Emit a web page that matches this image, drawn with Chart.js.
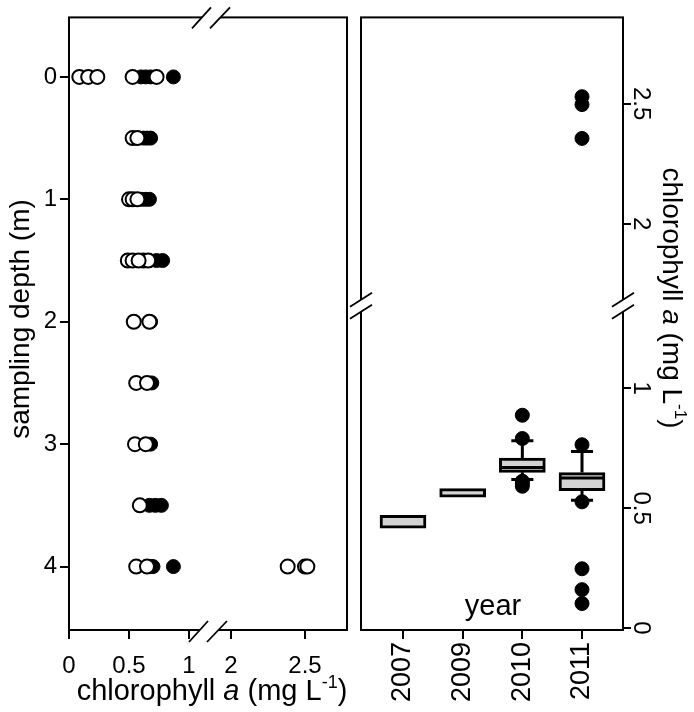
<!DOCTYPE html>
<html><head><meta charset="utf-8">
<script src="https://cdn.jsdelivr.net/npm/chart.js@4.4.0/dist/chart.umd.min.js"></script>
<style>
html,body{margin:0;padding:0;background:#fff;}
#wrap{position:relative;width:694px;height:712px;overflow:hidden;background:#fff;}
canvas{position:absolute;top:0;left:0;}
</style></head><body>
<div id="wrap"><canvas id="cL" width="694" height="712"></canvas><canvas id="cR" width="694" height="712"></canvas></div>
<script>
// ---------- data ----------
const depths = [0, 0.5, 1, 1.5, 2, 2.5, 3, 3.5, 4];
const openValues = [
  [0.086, 0.16, 0.236, 0.53, 0.73],
  [0.53, 0.57],
  [0.50, 0.53, 0.57],
  [0.49, 0.53, 0.62, 0.66, 0.58],
  [0.54, 0.67],
  [0.56, 0.65],
  [0.55, 0.64],
  [0.59],
  [0.56, 0.65, 2.383, 2.50, 2.516]
];
const filledValues = [
  [0.60, 0.64, 0.68, 0.87],
  [0.62, 0.65, 0.68],
  [0.61, 0.64, 0.67],
  [0.67, 0.73, 0.78],
  [0.68],
  [0.69],
  [0.68],
  [0.67, 0.72, 0.77],
  [0.68, 0.70, 0.87]
];
const depthTicks = [0, 1, 2, 3, 4];
const chlTicks = [0, 0.5, 1, 2, 2.5];
const chlTickLabels = ['0', '0.5', '1', '2', '2.5'];

const years = ['2007', '2009', '2010', '2011'];
const boxQ1 = [0.416, 0.545, 0.649, 0.573];
const boxMedian = [null, null, 0.669, 0.625];
const boxQ3 = [0.470, 0.581, 0.708, 0.648];
const whiskerLow = [null, null, 0.619, 0.533];
const whiskerHigh = [null, null, 0.781, 0.736];
const outliers = [
  [],
  [],
  [0.887, 0.790, 0.612, 0.603, 0.591],
  [2.529, 2.496, 2.355, 0.764, 0.526, 0.247, 0.160, 0.102]
];
const rightTicks = [0, 0.5, 1, 2, 2.5];
const rightTickLabels = ['0', '0.5', '1', '2', '2.5'];

// ---------- broken-axis transforms ----------
const tX = v => v <= 1 ? v : 1.35 + (v - 2) * 1.2333;   // left panel x
const tY = v => v <= 1 ? v : 1.686 + (v - 2);           // right panel y

const FONT = "'Liberation Sans', Arial, Helvetica, sans-serif";

function richText(ctx, parts, x, y, angle, size) {
  ctx.save();
  ctx.translate(x, y);
  ctx.rotate(angle);
  ctx.fillStyle = '#000';
  ctx.textBaseline = 'alphabetic';
  ctx.textAlign = 'left';
  const fnt = p => (p.italic ? 'italic ' : '') + (p.sup ? Math.round(size * 0.62) : size) + 'px ' + FONT;
  let total = 0;
  const w = parts.map(p => { ctx.font = fnt(p); const m = ctx.measureText(p.t).width; total += m; return m; });
  let cx = -total / 2;
  parts.forEach((p, i) => {
    ctx.font = fnt(p);
    ctx.fillText(p.t, cx, p.sup ? size * 0.35 - size * 0.42 : size * 0.35);
    cx += w[i];
  });
  ctx.restore();
}
const chlTitle = [{t: 'chlorophyll '}, {t: 'a', italic: true}, {t: ' (mg L'}, {t: '-1', sup: true}, {t: ')'}];

function slashPair(ctx, pts) {
  ctx.save();
  ctx.fillStyle = '#fff';
  ctx.beginPath();
  ctx.moveTo(pts[0][0], pts[0][1]); ctx.lineTo(pts[0][2], pts[0][3]);
  ctx.lineTo(pts[1][2], pts[1][3]); ctx.lineTo(pts[1][0], pts[1][1]);
  ctx.closePath(); ctx.fill();
  ctx.strokeStyle = '#000'; ctx.lineWidth = 1.8;
  pts.forEach(p => { ctx.beginPath(); ctx.moveTo(p[0], p[1]); ctx.lineTo(p[2], p[3]); ctx.stroke(); });
  ctx.restore();
}
function breakHoriz(ctx, cx, cy) {
  slashPair(ctx, [[cx - 19, cy + 11, cx, cy - 10], [cx - 1, cy + 11, cx + 19, cy - 10]]);
}
function breakVert(ctx, cx, cy) {
  slashPair(ctx, [[cx - 11, cy + 1, cx + 11, cy - 13], [cx - 11, cy + 13, cx + 11, cy - 1]]);
}

const leftDecor = {
  id: 'leftDecor',
  afterDraw(chart) {
    const ctx = chart.ctx, a = chart.chartArea;
    ctx.save();
    ctx.strokeStyle = '#000'; ctx.lineWidth = 2;
    ctx.strokeRect(a.left, a.top, a.right - a.left, a.bottom - a.top);
    ctx.restore();
    const xs = chart.scales.x;
    const bx = (xs.getPixelForValue(tX(1)) + xs.getPixelForValue(tX(2))) / 2 - 2;
    breakHoriz(ctx, bx, a.bottom + 1);
    breakHoriz(ctx, bx + 3, a.top);
    richText(ctx, chlTitle, 212, 690, 0, 29);
    richText(ctx, [{t: 'sampling depth (m)'}], 19, 319, -Math.PI / 2, 28);
  }
};

const rightDecor = {
  id: 'rightDecor',
  afterDraw(chart) {
    const ctx = chart.ctx, a = chart.chartArea;
    ctx.save();
    ctx.strokeStyle = '#000'; ctx.lineWidth = 2;
    ctx.strokeRect(a.left, a.top, a.right - a.left, a.bottom - a.top);
    ctx.restore();
    const ys = chart.scales.y;
    const by = (ys.getPixelForValue(tY(1)) + ys.getPixelForValue(tY(2))) / 2;
    breakVert(ctx, a.left, by);
    breakVert(ctx, a.right, by);
    ctx.save();
    ctx.fillStyle = '#000';
    ctx.font = '24px ' + FONT;
    ctx.textAlign = 'center'; ctx.textBaseline = 'middle';
    rightTicks.forEach((v, i) => {
      ctx.save();
      ctx.translate(641, ys.getPixelForValue(tY(v)));
      ctx.rotate(Math.PI / 2);
      ctx.fillText(rightTickLabels[i], 0, 0);
      ctx.restore();
    });
    ctx.font = '29px ' + FONT;
    ctx.textAlign = 'center'; ctx.textBaseline = 'alphabetic';
    ctx.fillText('year', 493, 615);
    ctx.restore();
    richText(ctx, chlTitle, 673, 298, Math.PI / 2, 28);
  }
};

// ---------- left panel ----------
const openPts = [], filledPts = [];
depths.forEach((d, i) => {
  openValues[i].forEach(v => openPts.push({x: tX(v), y: d}));
  filledValues[i].forEach(v => filledPts.push({x: tX(v), y: d}));
});

const tickFont = {family: FONT, size: 24};
const gridOpts = {drawOnChartArea: false, drawTicks: true, tickLength: 9, color: '#000', lineWidth: 2};

new Chart(document.getElementById('cL'), {
  type: 'scatter',
  data: {datasets: [
    {label: 'open', data: openPts, pointRadius: 7, pointBackgroundColor: '#fff', pointBorderColor: '#000', pointBorderWidth: 2},
    {label: 'filled', data: filledPts, pointRadius: 7, pointBackgroundColor: '#000', pointBorderColor: '#000', pointBorderWidth: 1}
  ]},
  options: {
    responsive: false, animation: false, events: [],
    layout: {padding: {left: 0, top: 12, right: 347, bottom: 0}},
    plugins: {legend: {display: false}, tooltip: {enabled: false}},
    scales: {
      x: {
        type: 'linear', min: 0, max: 2.3167,
        afterBuildTicks: s => { s.ticks = chlTicks.map(v => ({value: tX(v)})); },
        ticks: {callback: (v, i) => chlTickLabels[i], font: tickFont, color: '#000', maxRotation: 0, autoSkip: false, padding: 13},
        grid: gridOpts, border: {display: false},
        afterFit: s => { s.height = 82; }
      },
      y: {
        type: 'linear', reverse: true, min: -0.486, max: 4.518,
        afterBuildTicks: s => { s.ticks = depthTicks.map(v => ({value: v})); },
        ticks: {callback: (v, i) => String(depthTicks[i]), font: tickFont, color: '#000', autoSkip: false, padding: 3},
        grid: gridOpts, border: {display: false},
        afterFit: s => { s.width = 69; }
      }
    }
  },
  plugins: [leftDecor]
});

// ---------- right panel ----------
const boxData = years.map((y, i) => ({x: i + 1, y: [tY(boxQ1[i]), tY(boxQ3[i])]}));
const whiskerPts = [];
years.forEach((y, i) => {
  const x = i + 1;
  if (whiskerHigh[i] !== null) {
    whiskerPts.push({x, y: tY(boxQ3[i])}, {x, y: tY(whiskerHigh[i])}, {x, y: null});
    whiskerPts.push({x: x - 0.185, y: tY(whiskerHigh[i])}, {x: x + 0.185, y: tY(whiskerHigh[i])}, {x, y: null});
  }
  if (whiskerLow[i] !== null) {
    whiskerPts.push({x, y: tY(boxQ1[i])}, {x, y: tY(whiskerLow[i])}, {x, y: null});
    whiskerPts.push({x: x - 0.185, y: tY(whiskerLow[i])}, {x: x + 0.185, y: tY(whiskerLow[i])}, {x, y: null});
  }
});
const medianPts = [];
years.forEach((y, i) => {
  if (boxMedian[i] !== null) {
    medianPts.push({x: i + 1 - 0.36, y: tY(boxMedian[i])}, {x: i + 1 + 0.36, y: tY(boxMedian[i])}, {x: i + 1, y: null});
  }
});
const outlierPts = [];
outliers.forEach((arr, i) => arr.forEach(v => outlierPts.push({x: i + 1, y: tY(v)})));

new Chart(document.getElementById('cR'), {
  type: 'bar',
  data: {datasets: [
    {type: 'bar', label: 'box', data: boxData, backgroundColor: '#d3d3d3', borderColor: '#000', borderWidth: 3, borderSkipped: false, barThickness: 46, grouped: false, order: 3},
    {type: 'line', label: 'whiskers', data: whiskerPts, borderColor: '#000', borderWidth: 3, pointRadius: 0, spanGaps: false, fill: false, order: 2},
    {type: 'line', label: 'median', data: medianPts, borderColor: '#000', borderWidth: 3, pointRadius: 0, spanGaps: false, fill: false, order: 1},
    {type: 'scatter', label: 'outliers', data: outlierPts, pointRadius: 7, pointBackgroundColor: '#000', pointBorderColor: '#000', pointBorderWidth: 1, showLine: false, order: 0}
  ]},
  options: {
    responsive: false, animation: false, events: [],
    layout: {padding: {left: 361, top: 12, right: 0, bottom: 0}},
    plugins: {legend: {display: false}, tooltip: {enabled: false}},
    scales: {
      x: {
        type: 'linear', min: 0.296, max: 4.687, offset: false,
        afterBuildTicks: s => { s.ticks = years.map((y, i) => ({value: i + 1})); },
        ticks: {callback: (v, i) => years[i], font: {family: FONT, size: 27}, color: '#000', minRotation: 90, maxRotation: 90, autoSkip: false, padding: 3},
        grid: Object.assign({}, gridOpts, {offset: false}), border: {display: false},
        afterFit: s => { s.height = 82; }
      },
      y: {
        type: 'linear', position: 'right', min: -0.00826, max: 2.5455,
        afterBuildTicks: s => { s.ticks = rightTicks.map(v => ({value: tY(v)})); },
        ticks: {callback: (v, i) => rightTickLabels[i], font: tickFont, color: 'rgba(0,0,0,0)', autoSkip: false},
        grid: Object.assign({}, gridOpts, {tickLength: 8}), border: {display: false},
        afterFit: s => { s.width = 71; }
      }
    }
  },
  plugins: [rightDecor]
});
</script>
</body></html>
